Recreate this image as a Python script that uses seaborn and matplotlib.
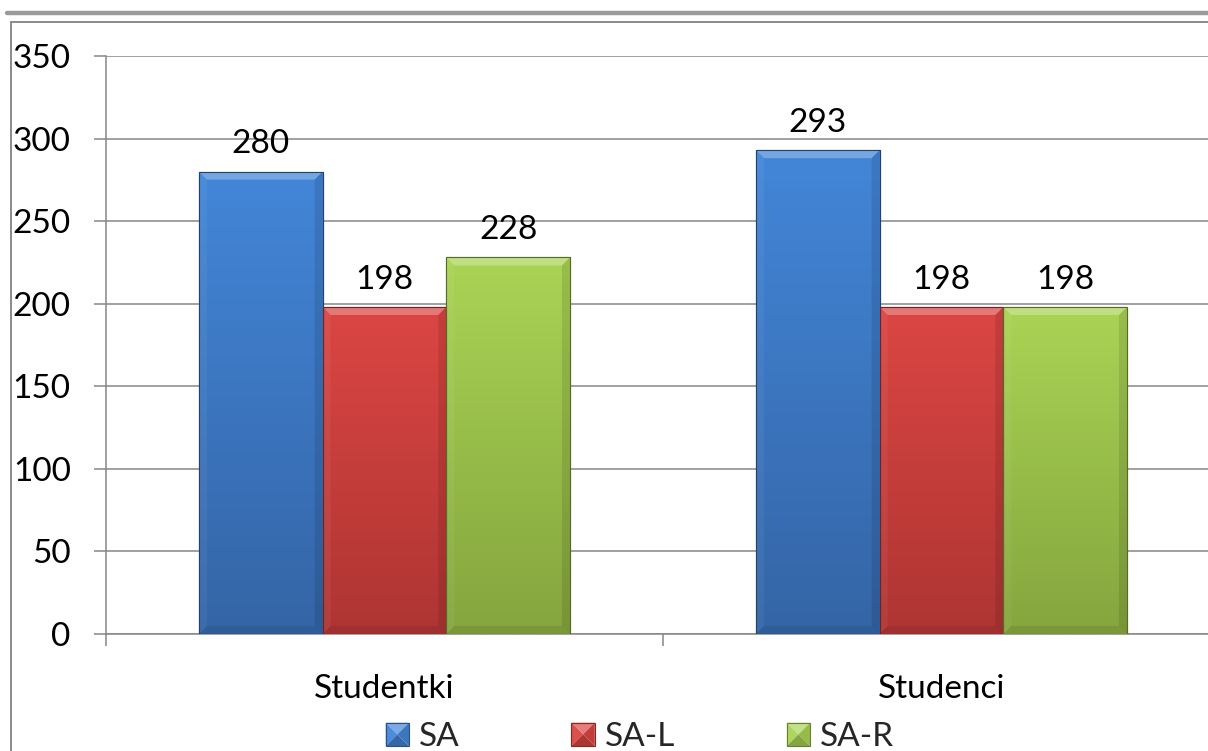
import numpy as np
import pandas as pd
import seaborn as sns
import matplotlib
matplotlib.use("Agg")
import matplotlib.pyplot as plt
from matplotlib.patches import Polygon, Patch
from matplotlib.lines import Line2D
from matplotlib.colors import to_rgb
from matplotlib.legend_handler import HandlerBase

# --- data -------------------------------------------------------------
groups = ["Studentki", "Studenci"]
series = ["SA", "SA-L", "SA-R"]
sa = [280, 293]
sa_l = [198, 198]
sa_r = [228, 198]
y_ticks = [0, 50, 100, 150, 200, 250, 300, 350]

# gradient colours (top, bottom) for each series
grad = {
    "SA": ("#4386d8", "#3465a6"),
    "SA-L": ("#db4643", "#ae3533"),
    "SA-R": ("#aad455", "#85a53e"),
}

df = pd.DataFrame({
    "grupa": groups * 3,
    "seria": [s for s in series for _ in groups],
    "wartosc": sa + sa_l + sa_r,
})

sns.set_theme(style="white")
plt.rcParams["font.family"] = ["Lato", "DejaVu Sans"]
FS = 24
GRID = "#868686"

W, H = 1208, 751
fig = plt.figure(figsize=(W / 100, H / 100), dpi=100)
fig.patch.set_facecolor("white")
ax = fig.add_axes([106 / W, 117 / H, (1220 - 106) / W, 578 / H])

palette = {s: grad[s][0] for s in series}
sns.barplot(data=df, x="grupa", y="wartosc", hue="seria", order=groups,
            hue_order=series, palette=palette, width=0.666, saturation=1,
            legend=False, ax=ax, zorder=3)

ax.set_xlim(-0.5, 1.5)
ax.set_ylim(0, 350)


def mix(c, other, t):
    c = np.array(to_rgb(c))
    o = np.array(to_rgb(other))
    return tuple(c * (1 - t) + o * t)


# px -> data conversions for the bevel size
px_x = 2.0 / (1220 - 106)
px_y = 350 / 578.0
bev = 8

for s, cont in zip(series, ax.containers):
    top_c, bot_c = grad[s]
    for bar in cont:
        x0, w, h = bar.get_x(), bar.get_width(), bar.get_height()
        x1 = x0 + w
        bar.set_edgecolor(mix(bot_c, "black", 0.35))
        bar.set_linewidth(0.8)
        # vertical gradient inside the bar
        n = 256
        t = np.linspace(0, 1, n)[:, None]
        ct = np.array(to_rgb(top_c))
        cb = np.array(to_rgb(bot_c))
        img = ct[None, None, :] * (1 - t[..., None]) + cb[None, None, :] * t[..., None]
        im = ax.imshow(img, extent=[x0, x1, 0, h], aspect="auto",
                       origin="upper", zorder=3.5, interpolation="bilinear")
        im.set_clip_path(bar)
        bx, by = bev * px_x, bev * px_y
        polys = [
            ([(x0, h), (x1, h), (x1 - bx, h - by), (x0 + bx, h - by)], "white", 0.28),
            ([(x0, 0), (x0, h), (x0 + bx, h - by), (x0 + bx, by)], "white", 0.05),
            ([(x1, 0), (x1, h), (x1 - bx, h - by), (x1 - bx, by)], "black", 0.10),
            ([(x0, 0), (x1, 0), (x1 - bx, by), (x0 + bx, by)], "black", 0.08),
        ]
        for pts, col, a in polys:
            ax.add_patch(Polygon(pts, closed=True, fc=col, alpha=a, lw=0, zorder=4))
        ax.add_patch(Polygon([(x0, 0), (x1, 0), (x1, h), (x0, h)], closed=True,
                             fill=False, ec=mix(bot_c, "black", 0.35), lw=0.8, zorder=4.5))
    ax.bar_label(cont, fmt="%d", padding=9, fontsize=FS, color="black", zorder=5)

# axes styling
ax.set_yticks(y_ticks)
ax.set_yticklabels([str(v) for v in y_ticks])
ax.yaxis.grid(True, color=GRID, lw=1.1, zorder=0)
ax.xaxis.grid(False)
ax.set_axisbelow(True)
ax.tick_params(axis="y", which="major", left=True, length=8.6, width=1.1,
               color=GRID, pad=16.8, labelsize=FS, labelcolor="black", direction="out")
ax.set_xticks([-0.5, 0.5, 1.5], labels=["", "", ""])
ax.set_xticks([0, 1], labels=groups, minor=True)
ax.tick_params(axis="x", which="major", bottom=True, length=8.6, width=1.1,
               color=GRID, direction="out")
ax.tick_params(axis="x", which="minor", bottom=True, length=0, pad=29,
               labelsize=FS, labelcolor="black")
ax.set_xlabel("")
ax.set_ylabel("")
for side in ["top", "right"]:
    ax.spines[side].set_visible(False)
for side in ["left", "bottom"]:
    ax.spines[side].set_color(GRID)
    ax.spines[side].set_linewidth(1.1)


# legend with pyramid-shaped swatches
class PyramidHandler(HandlerBase):
    def create_artists(self, legend, orig_handle, xdescent, ydescent,
                       width, height, fontsize, trans):
        c = orig_handle.get_facecolor()
        s = min(width, height)
        x0 = -xdescent
        y0 = -ydescent + (height - s) / 2
        x1, y1 = x0 + s, y0 + s
        cx, cy = (x0 + x1) / 2, (y0 + y1) / 2
        tris = [
            ([(x0, y1), (x1, y1), (cx, cy)], mix(c, "white", 0.30)),
            ([(x0, y0), (x0, y1), (cx, cy)], mix(c, "white", 0.05)),
            ([(x1, y0), (x1, y1), (cx, cy)], mix(c, "black", 0.12)),
            ([(x0, y0), (x1, y0), (cx, cy)], mix(c, "black", 0.22)),
        ]
        arts = [Polygon(p, closed=True, fc=col, lw=0, transform=trans) for p, col in tris]
        arts.append(Polygon([(x0, y0), (x1, y0), (x1, y1), (x0, y1)], closed=True,
                            fill=False, ec=mix(c, "black", 0.4), lw=0.8, transform=trans))
        return arts


handles = [Patch(facecolor=grad[s][0]) for s in series]
fig.legend(handles, series, loc="center", bbox_to_anchor=(640 / W, 14 / H),
           ncol=3, frameon=False, fontsize=FS, handlelength=0.7, handleheight=0.7,
           handletextpad=0.3, columnspacing=3.35, borderpad=0, borderaxespad=0,
           handler_map={Patch: PyramidHandler()})

# outer chart frame
fig.add_artist(Line2D([7 / W, 1], [1 - 13 / H] * 2, color="#9a9a9a", lw=3.2,
                      transform=fig.transFigure))
fig.add_artist(Line2D([11 / W, 1], [1 - 22 / H] * 2, color="#8a8a8a", lw=1.4,
                      transform=fig.transFigure))
fig.add_artist(Line2D([11 / W, 11 / W], [0, 1 - 22 / H], color="#8a8a8a", lw=1.4,
                      transform=fig.transFigure))

fig.savefig("out.png", dpi=100, facecolor="white")
